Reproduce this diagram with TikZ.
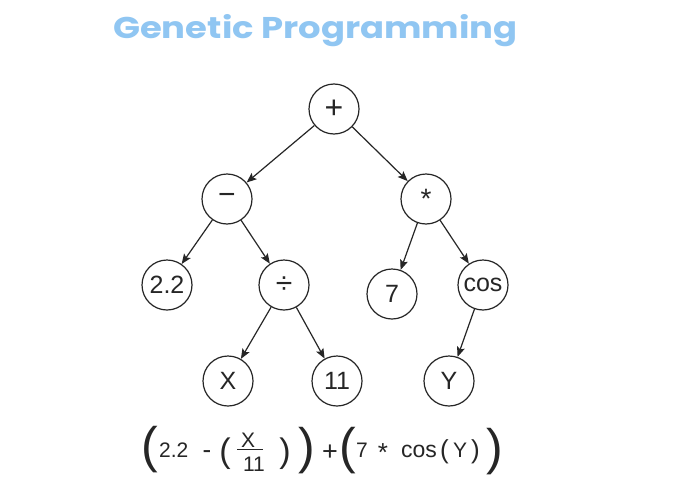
\documentclass[tikz,border=0pt]{standalone}
\usepackage{fontspec}
\setmainfont{Liberation Sans}
\newfontfamily\titlefont{Poppins}
\usetikzlibrary{arrows.meta}
\definecolor{titleblue}{RGB}{144,198,242}
\definecolor{ink}{RGB}{38,38,38}
\begin{document}
\begin{tikzpicture}[x=1pt,y=-1pt,
  gpnode/.style={circle,draw=ink,line width=1.2pt,minimum size=50pt,inner sep=0pt,
    font=\fontsize{25}{25}\selectfont,text=ink},
  gpedge/.style={draw=ink,line width=1.2pt,-{Stealth[length=10pt,width=8pt,inset=2pt]}},
  ftok/.style={inner sep=0pt,anchor=base west,font=\fontsize{21}{21}\selectfont,text=ink},
  fsym/.style={inner sep=0pt,font=\fontsize{21}{21}\selectfont,text=ink},
  bigparen/.style={inner sep=0pt,font=\fontsize{50}{50}\selectfont,text=ink},
  midparen/.style={inner sep=0pt,font=\fontsize{34}{34}\selectfont,text=ink},
  smallparen/.style={inner sep=0pt,font=\fontsize{26}{26}\selectfont,text=ink}]
\useasboundingbox[fill=white] (0,0) rectangle (692,503);

% title
\node[anchor=base west,inner sep=0pt,font=\titlefont\bfseries\fontsize{30}{30}\selectfont,text=titleblue]
  (title) at (113,38) {\scalebox{1.18}[1]{Genetic Programming}};

% tree nodes
\node[gpnode] (plus) at (334,109) {\fontsize{32}{32}\selectfont +};
\node[gpnode] (minus) at (227,199) {\fontsize{30}{30}\selectfont −};
\node[gpnode] (times) at (426,199) {\fontsize{28}{28}\selectfont\raisebox{-0.25em}{*}};
\node[gpnode] (c22) at (167,285) {2.2};
\node[gpnode] (div) at (284,285) {\fontsize{30}{30}\selectfont ÷};
\node[gpnode] (seven) at (392,294) {7};
\node[gpnode] (cos) at (483,285) {cos};
\node[gpnode] (x) at (228,381) {X};
\node[gpnode] (eleven) at (337,381) {11};
\node[gpnode] (y) at (449,381) {Y};

% edges
\draw[gpedge] (plus) -- (minus);
\draw[gpedge] (plus) -- (times);
\draw[gpedge] (minus) -- (c22);
\draw[gpedge] (minus) -- (div);
\draw[gpedge] (div) -- (x);
\draw[gpedge] (div) -- (eleven);
\draw[gpedge] (times) -- (seven);
\draw[gpedge] (times) -- (cos);
\draw[gpedge] (cos) -- (y);

% formula
\node[bigparen] (bp1) at (150,450) {(};
\node[ftok] (f22) at (159,457) {2.2};
\node[fsym,font=\fontsize{26}{26}\selectfont] (fminus) at (207,455) {-};
\node[midparen] (mp1) at (225,454) {(};
\node[fsym] (fx) at (248,440) {X};
\node[fsym] (f11) at (254,464) {11};
\coordinate (fl1) at (237,449);
\coordinate (fl2) at (263,449);
\draw[ink,line width=1pt] (fl1) -- (fl2);
\node[midparen] (mp2) at (285,454) {)};
\node[bigparen] (bp2) at (307,451) {)};
\node[fsym,font=\fontsize{27}{27}\selectfont] (fplus) at (330,453) {+};
\node[bigparen] (bp3) at (348,451) {(};
\node[ftok] (f7) at (356,457) {7};
\node[fsym,font=\fontsize{26}{26}\selectfont] (fstar) at (383,453) {*};
\node[ftok,font=\fontsize{23}{23}\selectfont] (fcos) at (401,457) {cos};
\node[smallparen] (sp1) at (444.5,452) {(};
\node[ftok] (fy) at (453,457) {Y};
\node[smallparen] (sp2) at (475.5,452) {)};
\node[bigparen] (bp4) at (495,452) {)};
\end{tikzpicture}
\end{document}
